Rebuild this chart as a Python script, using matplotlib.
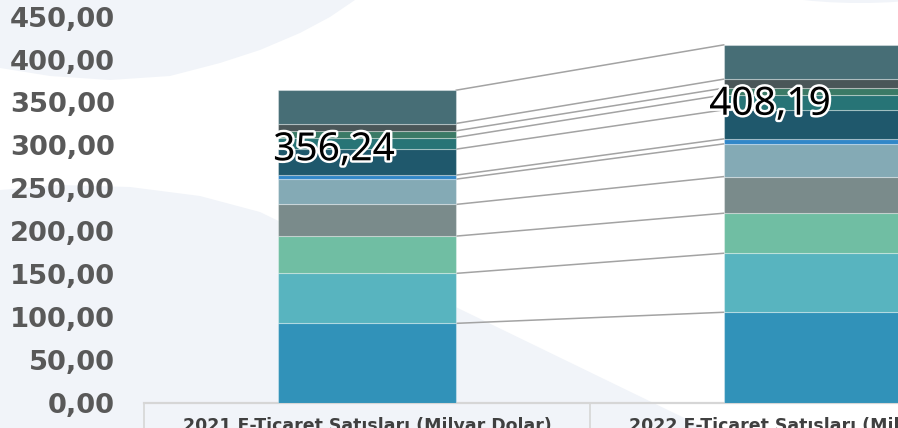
import matplotlib.pyplot as plt
import matplotlib.patheffects as pe
from matplotlib.patches import Polygon, Ellipse
import numpy as np

years = ["2021 E-Ticaret Satışları (Milyar Dolar)",
         "2022 E-Ticaret Satışları (Milyar Dolar)"]
totals = [356.24, 408.19]

# stacked segments, bottom to top
sales_2021 = [90.46, 56.96, 42.50, 36.12, 28.82, 4.56, 29.62, 13.33, 7.52, 8.43, 37.92]
sales_2022 = [103.16, 67.33, 45.65, 41.77, 37.32, 5.71, 33.09, 17.12, 7.65, 10.27, 39.12]

seg_colors = ["#3192b9", "#58b4bf", "#70bea3", "#7a8b8b", "#84aab5", "#3187c8",
              "#1f586c", "#277476", "#3b7a66", "#4a5658", "#476e76"]

yticks = np.arange(0, 451, 50)
ytick_labels = [f"{v:.2f}".replace(".", ",") for v in yticks]

W, H = 898, 428
fig = plt.figure(figsize=(W / 100, H / 100), dpi=100)
fig.patch.set_facecolor("white")

# decorative background shapes (pixel space)
bg = fig.add_axes([0, 0, 1, 1], zorder=0)
bg.set_xlim(0, W)
bg.set_ylim(H, 0)
bg.axis("off")
light = "#f1f4f9"
top_shape = [(0, 0), (0, 68), (50, 76), (110, 80), (170, 76), (220, 63),
             (260, 50), (300, 33), (330, 17), (355, 0)]
bottom_shape = [(0, 190), (60, 185), (130, 187), (200, 196), (260, 212),
                (705, H), (0, H)]
bg.add_patch(Polygon(top_shape, closed=True, color=light, lw=0))
bg.add_patch(Polygon(bottom_shape, closed=True, color=light, lw=0))
bg.add_patch(Ellipse((860, -14), 200, 34, color=light, lw=0))

ax = fig.add_axes([144 / W, 25.3 / H, 754 / W, 402.7 / H], zorder=1)
ax.set_facecolor("none")
x = np.arange(len(years))
width = 0.397

bottom = np.zeros(2)
for i, col in enumerate(seg_colors):
    vals = np.array([sales_2021[i], sales_2022[i]])
    ax.bar(x, vals, width, bottom=bottom, color=col,
           edgecolor=(1, 1, 1, 0.35), linewidth=0.8, zorder=3)
    bottom = bottom + vals

# connector lines between segment tops
cum_2021 = np.cumsum(sales_2021)
cum_2022 = np.cumsum(sales_2022)
for a, b in zip(cum_2021, cum_2022):
    ax.plot([x[0] + width / 2, x[1] - width / 2], [a, b],
            color="#a3a3a3", lw=1.1, zorder=2, solid_capstyle="butt")

# total labels
label_dx = [-33, -43]
for xi, tot, dx in zip(x, totals, label_dx):
    ax.annotate(f"{tot:.2f}".replace(".", ","), (xi, tot),
                xytext=(dx * 0.72, -60 * 0.72), textcoords="offset points",
                ha="center", va="center", fontsize=28, fontweight="bold",
                family="Noto Sans", color="black", zorder=5,
                path_effects=[pe.withStroke(linewidth=3.5, foreground="white")])

ax.set_xlim(-0.5, -0.5 + 754 / 446)
ax.set_ylim(0, 459.2)
ax.set_yticks([])
ax.set_xticks(x, years)
ax.tick_params(axis="x", length=0, pad=10)
for lab in ax.get_xticklabels():
    lab.set_fontsize(12.5)
    lab.set_fontweight("bold")
    lab.set_family("DejaVu Sans")
    lab.set_color("#404040")
for side in ["top", "right", "left"]:
    ax.spines[side].set_visible(False)
ax.spines["bottom"].set_color("#d6d6d6")
ax.spines["bottom"].set_linewidth(1.6)

# category cell separators below the axis
for sx in [-0.5, 0.5]:
    ax.plot([sx, sx], [0, -0.08], transform=ax.get_xaxis_transform(),
            color="#d6d6d6", lw=1.2, clip_on=False)

# value axis labels
ax_t = ax.twinx()
ax_t.set_facecolor("none")
ax_t.set_ylim(0, 469.5)
ax_t.yaxis.tick_left()
ax_t.set_yticks(yticks, ytick_labels)
ax_t.tick_params(axis="y", length=0, pad=21)
for lab in ax_t.get_yticklabels():
    lab.set_fontsize(19.7)
    lab.set_fontweight("bold")
    lab.set_family("DejaVu Sans")
    lab.set_color("#595959")
for side in ax_t.spines:
    ax_t.spines[side].set_visible(False)

fig.savefig("out.png", dpi=100)
